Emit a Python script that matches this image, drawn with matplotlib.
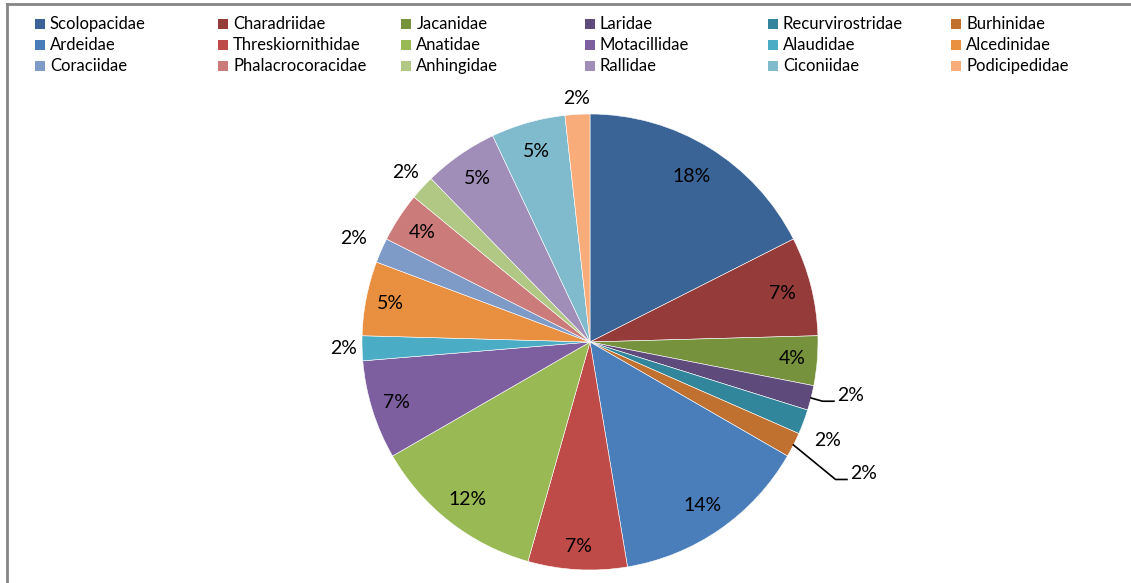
import numpy as np
import matplotlib
matplotlib.use("Agg")
import matplotlib.pyplot as plt
from matplotlib.lines import Line2D
from matplotlib.patches import Rectangle

# families and number of species
families = ["Scolopacidae", "Charadriidae", "Jacanidae", "Laridae", "Recurvirostridae", "Burhinidae",
            "Ardeidae", "Threskiornithidae", "Anatidae", "Motacillidae", "Alaudidae", "Alcedinidae",
            "Coraciidae", "Phalacrocoracidae", "Anhingidae", "Rallidae", "Ciconiidae", "Podicipedidae"]
counts = [10, 4, 2, 1, 1, 1, 8, 4, 7, 4, 1, 3, 1, 2, 1, 3, 3, 1]

colors = ["#3A6496", "#953C3A", "#77923C", "#5F4B7B", "#31869B", "#C0702F",
          "#4A7EBB", "#BE4B48", "#98B954", "#7D5FA0", "#4BACC6", "#E88F40",
          "#7E9BC8", "#CB7B7A", "#B0C884", "#A08DB8", "#7FBACD", "#F8AC7A"]

# label radius (in units of pie radius) and small angle shifts
lab_r = [0.85, 0.87, 0.89, 1.11, 1.13, 1.28, 0.87, 0.90, 0.875, 0.89, 1.08, 0.89,
         1.13, 0.88, 1.10, 0.87, 0.87, 1.07]
lab_shift = {3: -2.0, 4: 2.0}
leaders = [3, 5]

W, H = 1131, 583
fig = plt.figure(figsize=(W / 100, H / 100), dpi=100)
plt.rcParams['font.family'] = ['Lato', 'DejaVu Sans']

# chart border
fig.add_artist(Line2D([7 / W, 1], [1 - 4 / H, 1 - 4 / H], color="#868686", lw=2, transform=fig.transFigure))
fig.add_artist(Line2D([7 / W, 7 / W], [0, 1 - 4 / H], color="#868686", lw=2, transform=fig.transFigure))

# pie
cx, cy, R = 590, 342, 228
ax = fig.add_axes([(cx - R) / W, (H - cy - R) / H, 2 * R / W, 2 * R / H])
wedges, _ = ax.pie(counts, colors=colors, startangle=90, counterclock=False, radius=1,
                   wedgeprops=dict(edgecolor="white", linewidth=0.4))
ax.set_xlim(-1, 1)
ax.set_ylim(-1, 1)
ax.set_aspect("equal")
ax.axis("off")

total = sum(counts)
cum = np.cumsum(counts)
for i, c in enumerate(counts):
    mid = (cum[i] - c / 2) / total * 360
    pct = "%d%%" % round(100 * c / total)
    ang = np.radians(mid + lab_shift.get(i, 0))
    x, y = lab_r[i] * np.sin(ang), lab_r[i] * np.cos(ang)
    if i in leaders:
        ex, ey = np.sin(np.radians(mid)), np.cos(np.radians(mid))
        ax.plot([ex, x - 0.065, x - 0.015], [ey, y - 0.025, y - 0.025], color="black", lw=1.2,
                clip_on=False)
        ax.text(x, y, pct, ha="left", va="center", fontsize=14)
    else:
        ax.text(x, y, pct, ha="center", va="center", fontsize=14)

# legend, 6 columns x 3 rows filled by row
for i, name in enumerate(families):
    col, row = i % 6, i // 6
    px, py = 35 + 183.2 * col, 19 + 21 * row
    fig.add_artist(Rectangle((px / W, 1 - (py + 10) / H), 10 / W, 10 / H, facecolor=colors[i],
                             edgecolor="none", transform=fig.transFigure))
    fig.text((px + 15) / W, 1 - (py + 5) / H, name, ha="left", va="center", fontsize=12)

fig.savefig("out.png", dpi=100)
